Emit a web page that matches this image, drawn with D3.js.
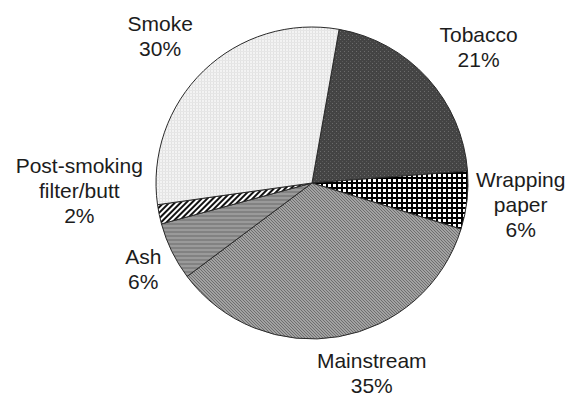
<!DOCTYPE html>
<html>
<head>
<meta charset="utf-8">
<script src="https://cdn.jsdelivr.net/npm/d3@7/dist/d3.min.js"></script>
<style>
  html, body { margin: 0; padding: 0; background: #fff; }
  svg { display: block; }
  text { font-family: "Liberation Sans", Arial, sans-serif; font-size: 21px; fill: #1c1c1c; }
</style>
</head>
<body>
<svg id="chart" width="568" height="396"></svg>
<script>
// Share of each fate of a cigarette, clockwise from the top
const categories = ["Tobacco", "Wrapping paper", "Mainstream", "Ash", "Post-smoking filter/butt", "Smoke"];
const labelLines = [["Tobacco"], ["Wrapping", "paper"], ["Mainstream"], ["Ash"], ["Post-smoking", "filter/butt"], ["Smoke"]];
const values = [21, 6, 35, 6, 2, 30];

// Layout settings
const width = 568, height = 396;
const cx = 312, cy = 183, radius = 156;
const startDeg = 10;
const labelRadius = 210;
const lineHeight = 25;
const capHeight = 15;
const labelNudge = [[11, 5], [0, -2], [24, -17], [20, -6.5], [-27, -35], [-6, 4]];
const patternIds = ["pTobacco", "pPaper", "pMain", "pAsh", "pButt", "pSmoke"];

const svg = d3.select("#chart");
const defs = svg.append("defs");

// Fill textures
function makePattern(id, w, h, build, transform) {
  const p = defs.append("pattern")
    .attr("id", id)
    .attr("patternUnits", "userSpaceOnUse")
    .attr("width", w).attr("height", h);
  if (transform) p.attr("patternTransform", transform);
  build(p);
}

// dark stipple
makePattern("pTobacco", 4, 4, p => {
  p.append("rect").attr("width", 4).attr("height", 4).attr("fill", "#444");
  p.append("rect").attr("x", 0).attr("y", 0).attr("width", 1).attr("height", 1).attr("fill", "#6c6c6c");
  p.append("rect").attr("x", 2).attr("y", 2).attr("width", 1).attr("height", 1).attr("fill", "#5a5a5a");
});
// black/white grid
makePattern("pPaper", 5, 5, p => {
  p.append("rect").attr("width", 5).attr("height", 5).attr("fill", "#000");
  p.append("rect").attr("x", 1).attr("y", 1).attr("width", 3).attr("height", 3).attr("fill", "#fff");
});
// fine diagonal hatch on mid grey
makePattern("pMain", 3, 3, p => {
  p.append("rect").attr("width", 3).attr("height", 3).attr("fill", "#a2a2a2");
  p.append("rect").attr("x", 0).attr("y", 0).attr("width", 1).attr("height", 1).attr("fill", "#6e6e6e");
  p.append("rect").attr("x", 1).attr("y", 1).attr("width", 1).attr("height", 1).attr("fill", "#6e6e6e");
  p.append("rect").attr("x", 2).attr("y", 2).attr("width", 1).attr("height", 1).attr("fill", "#6e6e6e");
});
// horizontal stripes
makePattern("pAsh", 4, 4, p => {
  p.append("rect").attr("width", 4).attr("height", 4).attr("fill", "#9a9a9a");
  p.append("rect").attr("y", 0).attr("width", 4).attr("height", 2).attr("fill", "#828282");
});
// black/white diagonal stripes
makePattern("pButt", 4, 4, p => {
  p.append("rect").attr("width", 4).attr("height", 4).attr("fill", "#fff");
  p.append("rect").attr("x", 0).attr("width", 2).attr("height", 4).attr("fill", "#111");
}, "rotate(45)");
// light dotted grid
makePattern("pSmoke", 3, 3, p => {
  p.append("rect").attr("width", 3).attr("height", 3).attr("fill", "#f3f3f3");
  p.append("rect").attr("x", 0).attr("y", 0).attr("width", 1).attr("height", 3).attr("fill", "#e2e2e2");
  p.append("rect").attr("x", 0).attr("y", 0).attr("width", 3).attr("height", 1).attr("fill", "#e6e6e6");
});

const toRad = d => d * Math.PI / 180;

const pie = d3.pie()
  .sort(null)
  .value(d => d)
  .startAngle(toRad(startDeg))
  .endAngle(toRad(startDeg + 360));

const arcs = pie(values);
const arc = d3.arc().innerRadius(0).outerRadius(radius);

const g = svg.append("g").attr("transform", `translate(${cx},${cy})`);

g.selectAll("path.slice")
  .data(arcs)
  .join("path")
  .attr("class", "slice")
  .attr("d", arc)
  .attr("fill", (d, i) => `url(#${patternIds[i]})`)
  .attr("stroke", "#2a2a2a")
  .attr("stroke-width", 1)
  .attr("stroke-linejoin", "round");

// Labels: name plus percentage, placed outside each slice
const labelArc = d3.arc().innerRadius(labelRadius).outerRadius(labelRadius);

arcs.forEach((d, i) => {
  const [lx, ly] = labelArc.centroid(d);
  const x = lx + labelNudge[i][0];
  const yc = ly + labelNudge[i][1];
  const lines = labelLines[i].concat([values[i] + "%"]);
  const n = lines.length;
  const firstBase = yc - (n - 1) * lineHeight / 2 + capHeight / 2;
  const t = g.append("text")
    .attr("text-anchor", "middle");
  lines.forEach((s, k) => {
    t.append("tspan")
      .attr("x", x)
      .attr("y", firstBase + k * lineHeight)
      .text(s);
  });
});
</script>
</body>
</html>
